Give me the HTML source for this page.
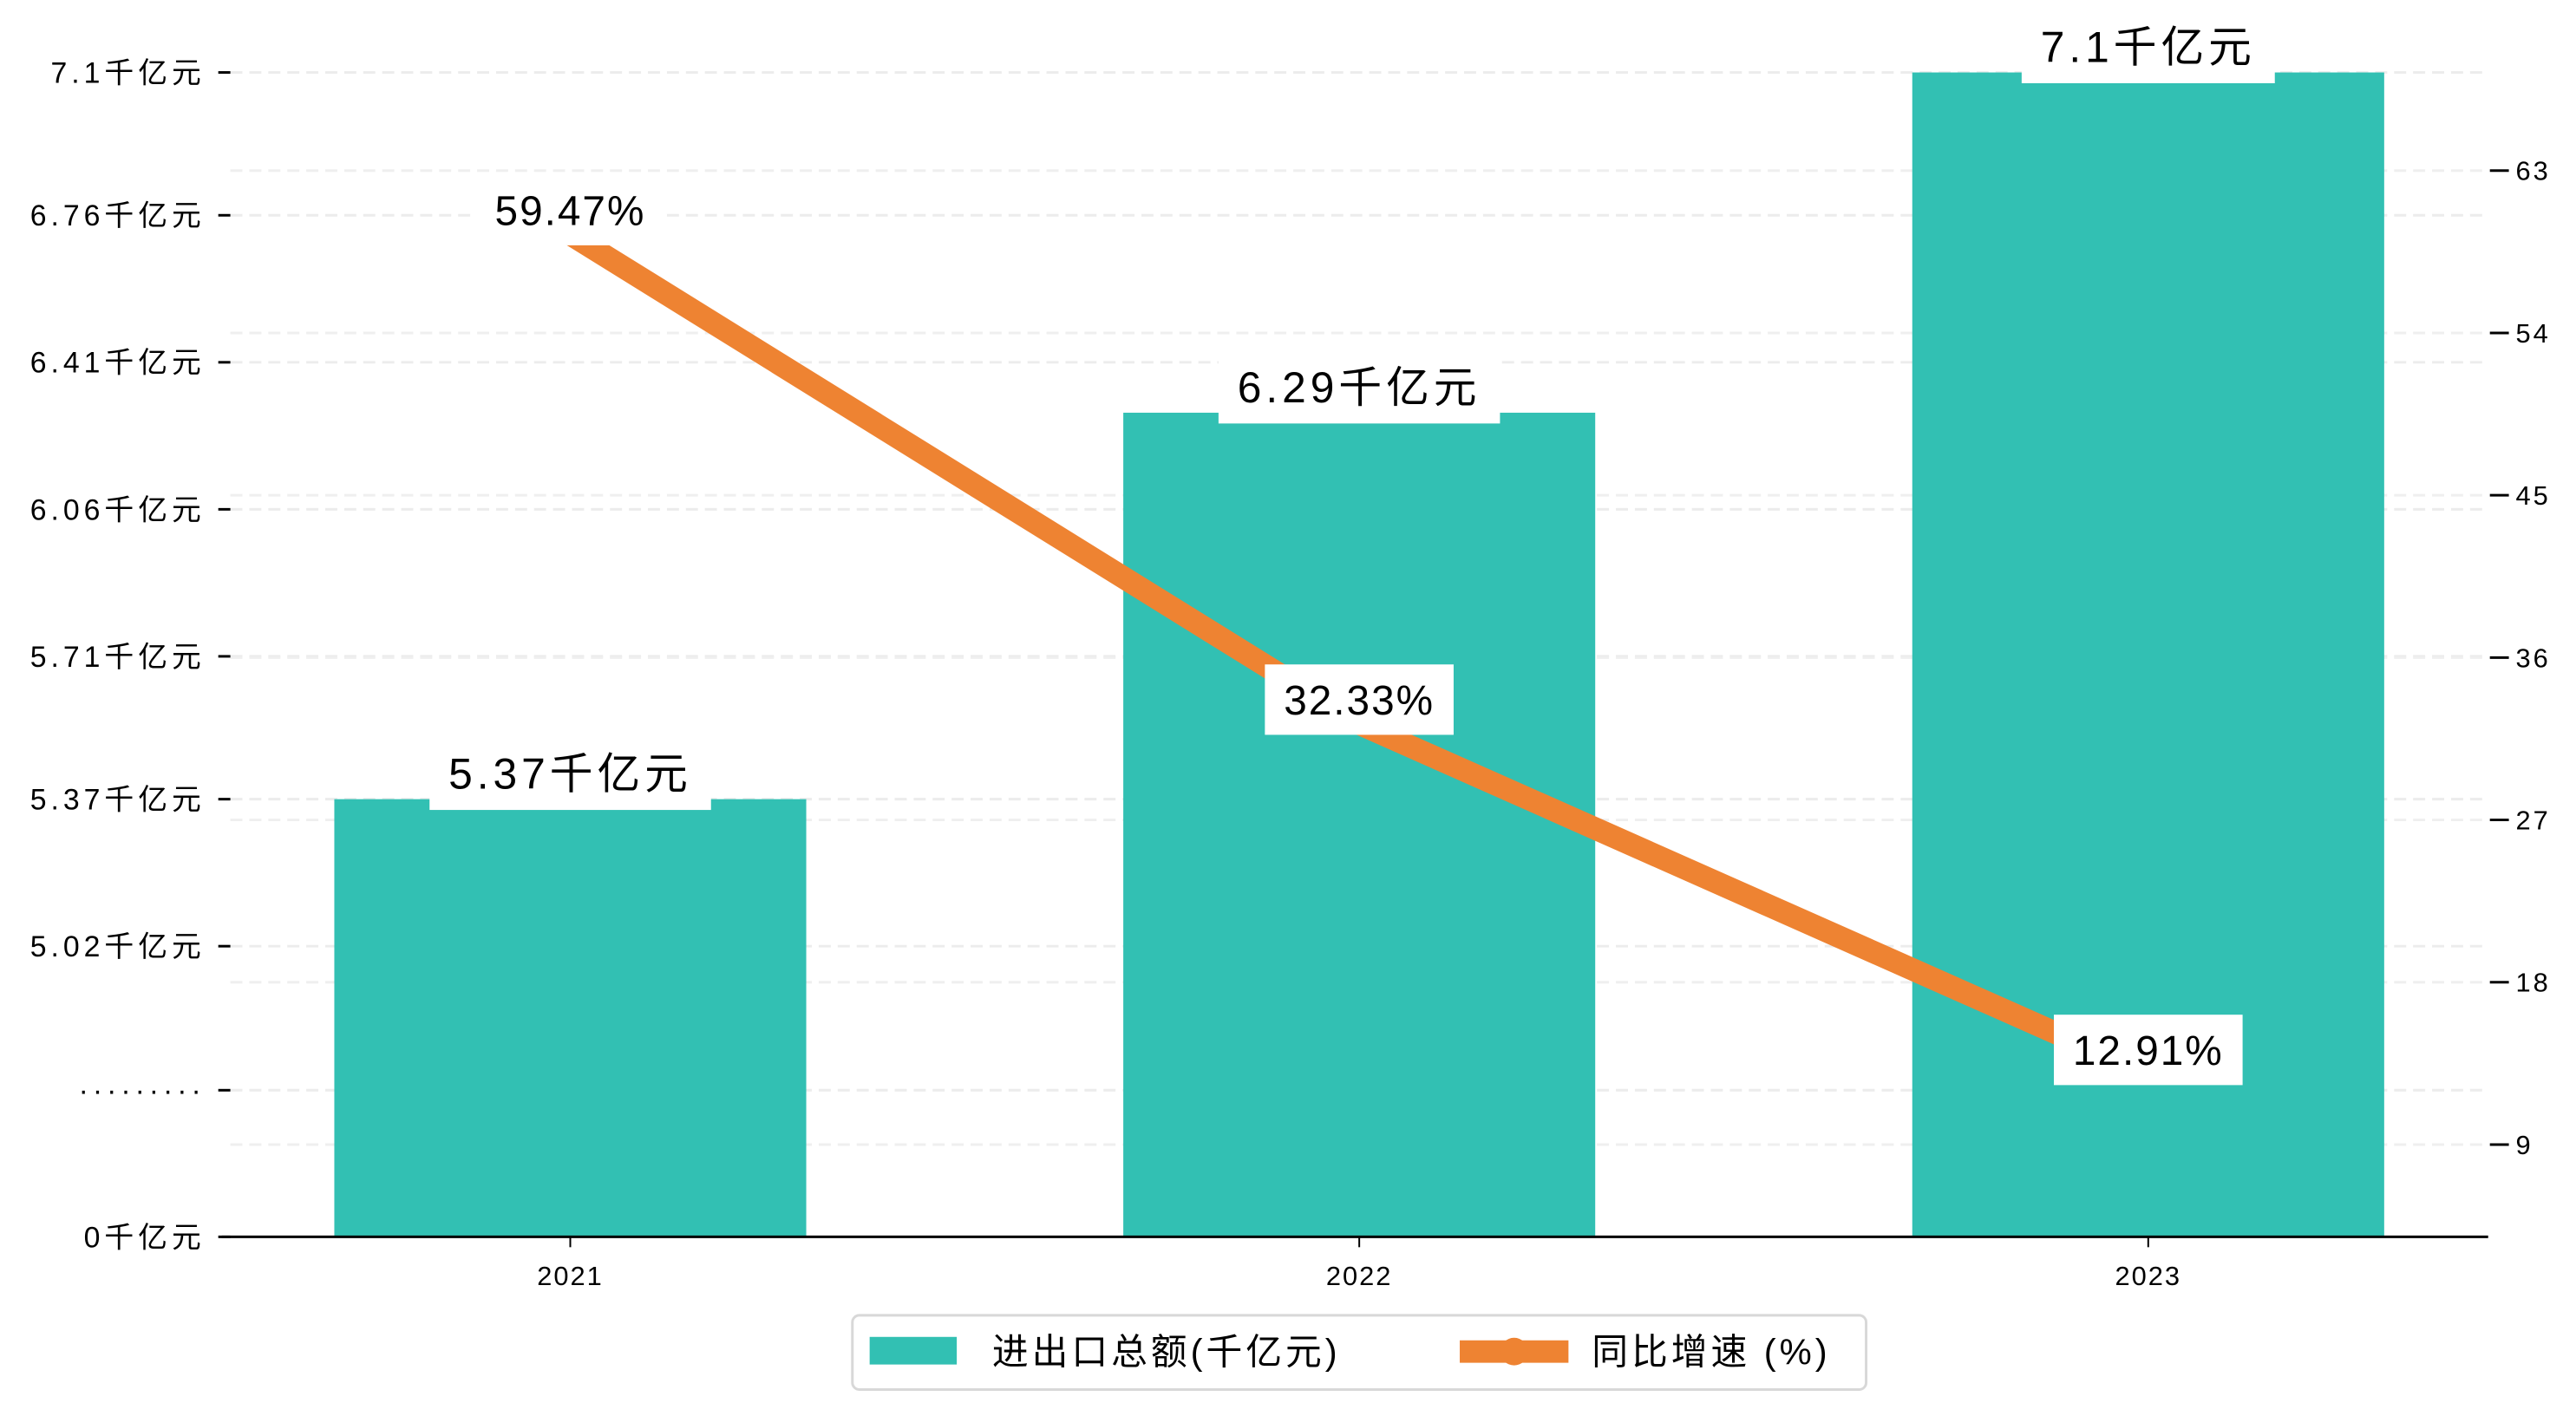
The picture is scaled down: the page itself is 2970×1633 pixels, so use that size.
<!DOCTYPE html>
<html><head><meta charset="utf-8">
<style>
html,body{margin:0;padding:0;background:#fff;}
svg{display:block;font-family:"Liberation Sans","WenQuanYi Zen Hei","Noto Sans CJK SC",sans-serif;}
</style></head>
<body>
<svg width="2970" height="1633" viewBox="0 0 2970 1633" xmlns="http://www.w3.org/2000/svg"><g id="chart" transform="scale(0.9947)"></g></svg>
<script>
const categories = ["2021","2022","2023"];
const totals = [5.37, 6.29, 7.1];
const growth = [59.47, 32.33, 12.91];
const leftTickValues = [5.02, 5.37, 5.71, 6.06, 6.41, 6.76, 7.1];
const leftTickLabels = ["5.02千亿元","5.37千亿元","5.71千亿元","6.06千亿元","6.41千亿元","6.76千亿元","7.1千亿元"];
const rightTicks = [9, 18, 27, 36, 45, 54, 63];

const svg = document.getElementById('chart');
const NS = 'http://www.w3.org/2000/svg';
function mk(tag, attrs, parent){const e=document.createElementNS(NS,tag);for(const k in attrs)e.setAttribute(k,attrs[k]);(parent||svg).appendChild(e);return e;}

const plotL=257, plotR=2884, baseY=1434, breakY=1264;
const yL = v => 1097 - (v-5.02)/(7.1-5.02)*(1097-84);
const yR = v => 1327 - (v-9)/9*188.2;
const xC = i => 661 + i*914.5;
const barW = 547;

leftTickValues.forEach(v=>{
  const g=mk('line',{x1:267,x2:plotR,y1:yL(v),y2:yL(v),stroke:'#ececec','stroke-width':3,'stroke-dasharray':'14 8'});
  
});
rightTicks.forEach(v=>{
  const g=mk('line',{x1:267,x2:plotR,y1:yR(v),y2:yR(v),stroke:'#efefef','stroke-width':3,'stroke-dasharray':'14 8'});
  
});
const bg=mk('line',{x1:267,x2:plotR,y1:breakY,y2:breakY,stroke:'#ececec','stroke-width':3,'stroke-dasharray':'14 8'});


totals.forEach((v,i)=>{
  const r=mk('rect',{x:xC(i)-barW/2,y:yL(v),width:barW,height:baseY-yL(v),fill:'#32C0B3'});
  
});

const xa=mk('line',{x1:plotL,x2:plotR,y1:baseY,y2:baseY,stroke:'#000','stroke-width':3});

categories.forEach((c,i)=>{
  mk('line',{x1:xC(i),x2:xC(i),y1:baseY,y2:baseY+12,stroke:'#000','stroke-width':2});
  const t=mk('text',{x:xC(i),y:1490,'font-size':31,'letter-spacing':2,'text-anchor':'middle',fill:'#000'});t.textContent=c;
  
});

function leftTick(y,label){
  mk('line',{x1:253,x2:267,y1:y,y2:y,stroke:'#000','stroke-width':3});
  const t=mk('text',{x:238,y:y+12,'font-size':34,'letter-spacing':5,'text-anchor':'end',fill:'#000'});t.textContent=label;
  
}
leftTickValues.forEach((v,i)=>leftTick(yL(v),leftTickLabels[i]));
leftTick(breakY,'·········');
leftTick(baseY,'0千亿元');

rightTicks.forEach(v=>{
  mk('line',{x1:2886,x2:2908,y1:yR(v),y2:yR(v),stroke:'#000','stroke-width':3});
  const t=mk('text',{x:2916,y:yR(v)+11,'font-size':31,'letter-spacing':3,fill:'#000'});t.textContent=String(v);
  
});

const pts=growth.map((v,i)=>xC(i)+','+yR(v)).join(' ');
const pl=mk('polyline',{points:pts,fill:'none',stroke:'#EE8332','stroke-width':26,'stroke-linejoin':'round'});


function boxLabel(cx,cy,text,fs,ls,name){
  const g=mk('g',{});
  
  const t=mk('text',{x:cx,y:cy+fs*0.36,'font-size':fs,'letter-spacing':ls,'text-anchor':'middle',fill:'#000'},g);
  t.textContent=text;
  const w=t.getComputedTextLength()+44;
  const r=mk('rect',{x:cx-w/2,y:cy-fs*0.85,width:w,height:fs*1.7,fill:'#fff'},g);
  g.insertBefore(r,t);
}
totals.forEach((v,i)=>boxLabel(xC(i),yL(v)-30,v+'千亿元',50,5,'bar-value-label'));
growth.forEach((v,i)=>boxLabel(xC(i),yR(v)-28,v.toFixed(2)+'%',48,2,'growth-value-label'));

const lg=mk('g',{});

mk('rect',{x:988,y:1525,width:1175,height:86,rx:8,fill:'#fff',stroke:'#d8d8d8','stroke-width':3},lg);
const l1=mk('rect',{x:1008,y:1550,width:101,height:32,fill:'#32C0B3'},lg);

const t1=mk('text',{x:1150,y:1582,'font-size':42,'letter-spacing':4,fill:'#000'},lg);t1.textContent='进出口总额(千亿元)';
const l2=mk('line',{x1:1692,x2:1818,y1:1567,y2:1567,stroke:'#EE8332','stroke-width':26},lg);

mk('circle',{cx:1755,cy:1567,r:16,fill:'#EE8332'},lg);
const t2=mk('text',{x:1845,y:1582,'font-size':42,'letter-spacing':4,fill:'#000'},lg);t2.textContent='同比增速 (%)';
</script>
</body></html>
